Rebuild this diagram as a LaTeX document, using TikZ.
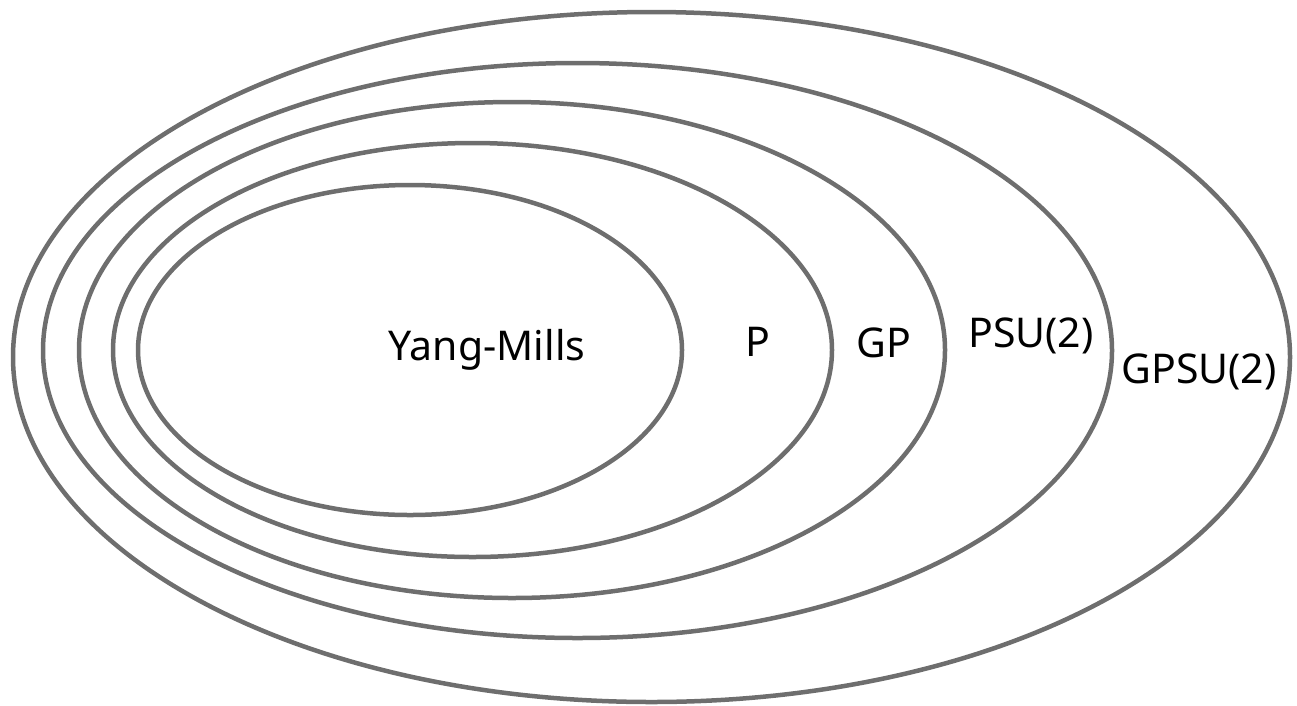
\documentclass[tikz,border=0pt]{standalone}
\usepackage{fontspec}
\setmainfont{Noto Sans}
\usetikzlibrary{shapes.geometric}
\definecolor{ringgray}{HTML}{6E6E6E}
\tikzset{
  ring/.style={draw=ringgray, line width=4.5pt, ellipse, inner sep=0pt},
  label/.style={font=\fontsize{41}{48}\selectfont, text=black, inner sep=0pt}
}
\begin{document}
\begin{tikzpicture}[x=1pt, y=-1pt]
  \useasboundingbox (0,0) rectangle (1297,705);
  % nested sets, outermost first
  \node[ring, minimum width=1277pt, minimum height=690pt] (gpsu) at (651.5,357) {};
  \node[ring, minimum width=1069pt, minimum height=575pt] (psu) at (577.5,350.5) {};
  \node[ring, minimum width=866pt, minimum height=496pt] (gp) at (512,350) {};
  \node[ring, minimum width=719pt, minimum height=414pt] (p) at (472.5,350) {};
  \node[ring, minimum width=544pt, minimum height=330pt] (ym) at (410,350) {};
  % set names
  \node[label] (tym) at (487,350) {Yang-Mills};
  \node[label] (tp) at (758,342) {P};
  \node[label] (tgp) at (884,343) {GP};
  \node[label] (tpsu) at (1031,336) {PSU(2)};
  \node[label] (tgpsu) at (1199,372) {GPSU(2)};
\end{tikzpicture}
\end{document}
